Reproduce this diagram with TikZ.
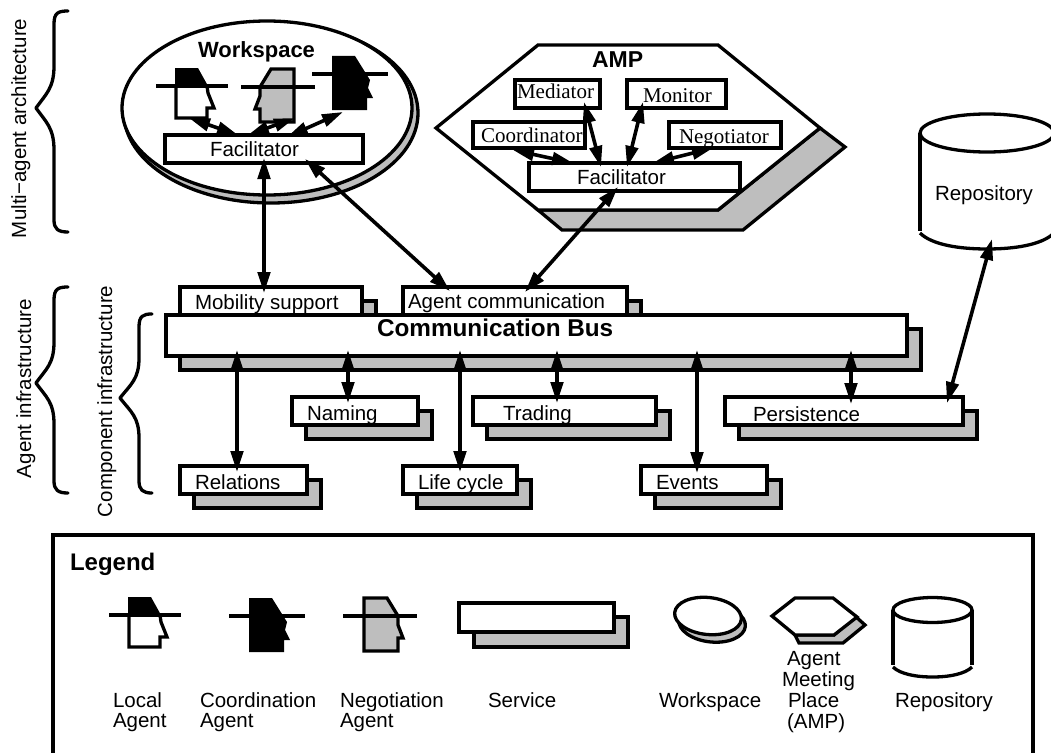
\documentclass[tikz,border=0pt]{standalone}
\usepackage{fontspec}
\setmainfont{Liberation Sans}
\newfontfamily\serifface{Liberation Serif}
\usetikzlibrary{arrows.meta,shapes.geometric}
\definecolor{shade}{HTML}{BEBEBE}
\newcommand{\txt}{\fontsize{20.5}{24}\selectfont}
\newcommand{\btxt}[1]{\fontsize{#1}{26}\selectfont\bfseries}
\newcommand{\srf}{\fontsize{21}{24}\selectfont\serifface}
\tikzset{
  x=1pt,y=-1pt,
  outline/.style={draw=black,line width=3.3pt,line join=miter},
  whitebox/.style={outline,fill=white,rectangle,inner sep=0pt,outer sep=0pt},
  shadowbox/.style={outline,fill=shade,rectangle,inner sep=0pt,outer sep=0pt},
  lbl/.style={anchor=base west,inner sep=0pt,outer sep=0pt,text=black,font=\txt},
  srflbl/.style={anchor=base west,inner sep=0pt,outer sep=0pt,text=black,font=\srf},
  rotlbl/.style={anchor=base west,rotate=90,inner sep=0pt,outer sep=0pt,font=\txt},
  link/.style={line width=3.6pt,{Triangle[length=21pt,width=12.5pt]}-{Triangle[length=21pt,width=12.5pt]}},
  brace/.style={line width=3.3pt,line cap=round,line join=round},
  brim/.style={line width=3.6pt},
  localagent/.pic={
    \fill[black] (19,-18)--(42,-18)--(52,0)--(19,0)--cycle;
    \draw[outline,fill=white] (20,0)--(20,32)--(51,32)--(51,22)--(58,22)--(52,7)--(51,0);
    \draw[brim] (0,0)--(72,0);
  },
  coordagent/.pic={
    \fill[black] (20,-18)--(43,-18)--(58,6)--(56,14)--(61,24)--(55,24)--(55,36)--(20,36)--cycle;
    \draw[brim] (0,0)--(76,0);
  },
  negagent/.pic={
    \draw[outline,fill=shade] (21,-18)--(44,-18)--(55,0)--(55,9)--(60,22)--(55,22)--(55,35)--(21,35)--cycle;
    \draw[brim] (0,0)--(74,0);
  },
}
% #1 name, #2-#5 box x1,y1,x2,y2
\newcommand{\plainbox}[5]{%
  \pgfmathsetmacro{\bw}{#4-#2}\pgfmathsetmacro{\bh}{#5-#3}%
  \pgfmathsetmacro{\bx}{(#2+#4)/2}\pgfmathsetmacro{\by}{(#3+#5)/2}%
  \node[whitebox,minimum width=\bw pt,minimum height=\bh pt] (#1) at (\bx,\by) {};}
\newcommand{\shbox}[5]{%
  \pgfmathsetmacro{\bw}{#4-#2}\pgfmathsetmacro{\bh}{#5-#3}%
  \pgfmathsetmacro{\bx}{(#2+#4)/2}\pgfmathsetmacro{\by}{(#3+#5)/2}%
  \node[shadowbox,minimum width=\bw pt,minimum height=\bh pt] (#1) at (\bx,\by) {};}
% service box with grey shadow offset 14,14
\newcommand{\service}[5]{%
  \pgfmathsetmacro{\sa}{#2+14}\pgfmathsetmacro{\sb}{#3+14}%
  \pgfmathsetmacro{\sc}{#4+14}\pgfmathsetmacro{\sd}{#5+14}%
  \shbox{#1Shadow}{\sa}{\sb}{\sc}{\sd}%
  \plainbox{#1}{#2}{#3}{#4}{#5}}
\begin{document}
\begin{tikzpicture}
\useasboundingbox (0,0) rectangle (1051,752);
\fill[white] (0,0) rectangle (1051,752);

% braces
\draw[brace] (68,11) .. controls (58,11) and (54,13) .. (54,24) -- (54,66) .. controls (54,88) and (46,94) .. (36,108) .. controls (46,122) and (54,128) .. (54,150) -- (54,220) .. controls (54,229) and (58,232) .. (68,232);
\draw[brace] (68,287) .. controls (58,287) and (54,289) .. (54,300) -- (54,342) .. controls (54,364) and (46,369) .. (36,383) .. controls (46,397) and (54,402) .. (54,424) -- (54,481) .. controls (54,490) and (58,493) .. (68,493);
\draw[brace] (152,314) .. controls (143,314) and (139,316) .. (139,327) -- (139,358) .. controls (139,379) and (131,384) .. (120,398) .. controls (131,412) and (139,417) .. (139,438) -- (139,481) .. controls (139,490) and (143,493) .. (152,493);
\node[rotlbl] (multiLabel) at (26,238) {Multi−agent architecture};
\node[rotlbl] (agentInfraLabel) at (31,478) {Agent infrastructure};
\node[rotlbl] (compInfraLabel) at (112,517) {Component infrastructure};

% workspace
\node[outline,fill=shade,ellipse,inner sep=0pt,outer sep=0pt,minimum width=294pt,minimum height=180pt] (wsShadow) at (271,113) {};
\node[outline,fill=white,ellipse,inner sep=0pt,outer sep=0pt,minimum width=290pt,minimum height=174pt] (workspace) at (267,108) {};
\node[lbl,font=\btxt{22}] (wsTitle) at (198,57) {Workspace};
\pic (wsLocal) at (156,86) {localagent};
\pic[xscale=-1] (wsNeg) at (315,87) {negagent};
\pic (wsCoord) at (312,74) {coordagent};
\plainbox{wsFac}{165}{135}{363}{163}
\node[lbl] (wsFacText) at (210,156) {Facilitator};

% AMP
\draw[outline,fill=shade] (538,210)--(562,230)--(743,230)--(845,147)--(820,128)--(718,210)--cycle;
\draw[outline,fill=white] (538,45)--(718,45)--(820,128)--(718,210)--(538,210)--(436,128)--cycle;
\node[lbl,font=\btxt{23}] (ampTitle) at (592,67) {AMP};
\plainbox{mediator}{515}{80}{600}{108}
\plainbox{monitor}{627}{80}{726}{108}
\plainbox{coordinator}{473}{122}{585}{148}
\plainbox{negotiator}{669}{122}{781}{148}
\plainbox{ampFac}{529}{163}{740}{191}
\node[srflbl] (mediatorText) at (517,98) {Mediator};
\node[srflbl] (monitorText) at (643,102) {Monitor};
\node[srflbl] (coordinatorText) at (481,142) {Coordinator};
\node[srflbl] (negotiatorText) at (679,143) {Negotiator};
\node[lbl] (ampFacText) at (577,184) {Facilitator};

% repository
\begin{scope}
\clip (0,0) rectangle (1051,752);
\draw[line width=3.3pt] (987,133) ellipse [x radius=67,y radius=19];
\draw[line width=3.3pt] (920,133)--(920,231);
\draw[line width=3.3pt] (920,233) .. controls (932,245) and (960,249) .. (987,249) .. controls (1014,249) and (1042,245) .. (1054,233);
\end{scope}
\node[lbl] (repoText) at (935,200) {Repository};

% services
\service{mobility}{180}{287}{362}{330}
\service{agentComm}{403}{287}{627}{330}
\service{bus}{166}{315}{907}{356}
\service{naming}{292}{397}{418}{425}
\service{trading}{473}{397}{656}{425}
\service{persistence}{725}{397}{963}{425}
\service{relations}{180}{466}{307}{494}
\service{lifecycle}{403}{466}{517}{494}
\service{events}{641}{466}{767}{494}
\node[lbl] (mobilityText) at (195,309) {Mobility support};
\node[lbl] (agentCommText) at (408,308) {Agent communication};
\node[lbl,font=\btxt{24.3}] (busText) at (377,336) {Communication Bus};
\node[lbl] (namingText) at (307,420) {Naming};
\node[lbl] (tradingText) at (503,420) {Trading};
\node[lbl] (persistenceText) at (753,421) {Persistence};
\node[lbl] (relationsText) at (195,489) {Relations};
\node[lbl] (lifecycleText) at (418,489) {Life cycle};
\node[lbl] (eventsText) at (656,489) {Events};

% connector ends
\coordinate (wsLocalFoot) at (189,118);
\coordinate (wsFacA) at (238,135);
\coordinate (wsNegFoot) at (295,118);
\coordinate (wsFacB) at (248,135);
\coordinate (wsCoordFoot) at (343,112);
\coordinate (wsFacC) at (287,137);
\coordinate (wsFacD) at (264,158);
\coordinate (mobilityTop) at (264,293);
\coordinate (wsFacE) at (305,159);
\coordinate (agentCommA) at (450,291);
\coordinate (ampFacA) at (618,187);
\coordinate (agentCommB) at (525,292);
\coordinate (mediatorEnd) at (584,102);
\coordinate (ampFacB) at (601,167);
\coordinate (monitorEnd) at (643,102);
\coordinate (ampFacC) at (627,167);
\coordinate (coordinatorEnd) at (513,150);
\coordinate (ampFacD) at (573,163);
\coordinate (negotiatorEnd) at (713,148);
\coordinate (ampFacE) at (653,163);
\coordinate (repoFoot) at (992,239);
\coordinate (persistenceB) at (947,403);
\coordinate (busA) at (237,350);
\coordinate (busB) at (348,350);
\coordinate (busC) at (460,350);
\coordinate (busD) at (557,350);
\coordinate (busE) at (697,350);
\coordinate (busF) at (851,350);
\coordinate (relationsTop) at (237,472);
\coordinate (namingTop) at (348,403);
\coordinate (lifecycleTop) at (460,472);
\coordinate (tradingTop) at (557,403);
\coordinate (eventsTop) at (697,473);
\coordinate (persistenceA) at (851,404);

% connectors
\draw[link] (wsLocalFoot)--(wsFacA);
\draw[link] (wsNegFoot)--(wsFacB);
\draw[link] (wsCoordFoot)--(wsFacC);
\draw[link] (wsFacD)--(mobilityTop);
\draw[link] (wsFacE)--(agentCommA);
\draw[link] (ampFacA)--(agentCommB);
\draw[link] (mediatorEnd)--(ampFacB);
\draw[link] (monitorEnd)--(ampFacC);
\draw[link] (coordinatorEnd)--(ampFacD);
\draw[link] (negotiatorEnd)--(ampFacE);
\draw[link] (repoFoot)--(persistenceB);
\draw[link] (busA)--(relationsTop);
\draw[link] (busB)--(namingTop);
\draw[link] (busC)--(lifecycleTop);
\draw[link] (busD)--(tradingTop);
\draw[link] (busE)--(eventsTop);
\draw[link] (busF)--(persistenceA);

% legend
\draw[line width=3.6pt] (53,760)--(53,535)--(1033,535)--(1033,760);
\node[lbl,font=\btxt{24}] (legendTitle) at (70,570) {Legend};
\pic (legLocal) at (109,615) {localagent};
\pic (legCoord) at (229,616) {coordagent};
\pic (legNeg) at (343,616) {negagent};
\shbox{legServiceShadow}{474}{617}{628}{647}
\plainbox{legService}{459}{603}{614}{632}
\node[outline,fill=shade,ellipse,rotate=-6,inner sep=0pt,outer sep=0pt,minimum width=67pt,minimum height=38pt] (legWsShadow) at (712,623) {};
\node[outline,fill=white,ellipse,rotate=-6,inner sep=0pt,outer sep=0pt,minimum width=67pt,minimum height=37pt] (legWs) at (708,616) {};
\draw[outline,fill=shade] (795,635)--(799,643)--(843,643)--(865,625)--(855,616)--(834,635)--cycle;
\draw[outline,fill=white] (772,616)--(795,598)--(833,598)--(857,617)--(834,635)--(795,635)--cycle;
\draw[line width=3.3pt] (932.5,610) ellipse [x radius=39.5,y radius=12.5];
\draw[line width=3.3pt] (893,610)--(893,665);
\draw[line width=3.3pt] (972,610)--(972,665);
\draw[line width=3.3pt] (893,667) .. controls (900,674) and (916,677) .. (932.5,677) .. controls (949,677) and (965,674) .. (972,667);
\node[lbl] (t1a) at (113,707) {Local};
\node[lbl] (t1b) at (113,727) {Agent};
\node[lbl] (t2a) at (200,707) {Coordination};
\node[lbl] (t2b) at (200,727) {Agent};
\node[lbl] (t3a) at (340,707) {Negotiation};
\node[lbl] (t3b) at (340,727) {Agent};
\node[lbl] (t4) at (488,707) {Service};
\node[lbl] (t5) at (659,707) {Workspace};
\node[lbl] (t6a) at (787,665) {Agent};
\node[lbl] (t6b) at (782,686) {Meeting};
\node[lbl] (t6c) at (788,707) {Place};
\node[lbl] (t6d) at (787,728) {(AMP)};
\node[lbl] (t7) at (895,707) {Repository};
\end{tikzpicture}
\end{document}
